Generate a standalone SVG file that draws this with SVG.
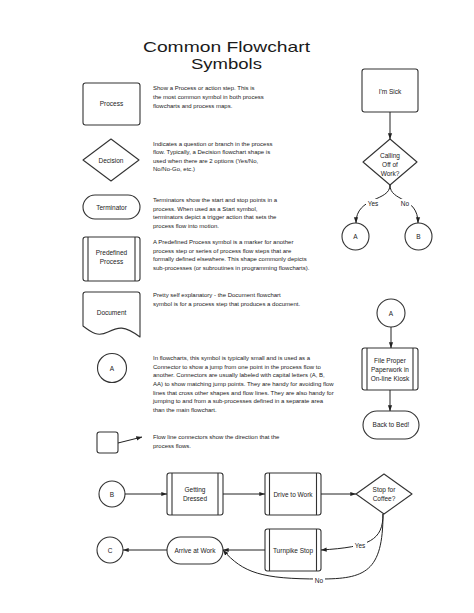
<svg xmlns="http://www.w3.org/2000/svg" width="474" height="613" viewBox="0 0 474 613">
<defs>
<marker id="arr" viewBox="0 0 10 10" refX="9.5" refY="5" markerWidth="6" markerHeight="6" orient="auto" markerUnits="userSpaceOnUse">
<path d="M0,1.5 L10,5 L0,8.5 Z" fill="#222"/>
</marker>
<style>
.s{fill:#fff;stroke:#333;stroke-width:1.1}
.in{stroke:#333;stroke-width:1.1;fill:none}
.c{fill:none;stroke:#222;stroke-width:1}
.t{font-family:"Liberation Sans",Arial,sans-serif;font-size:6px;fill:#222}
.l{font-family:"Liberation Sans",Arial,sans-serif;font-size:6.5px;fill:#222;text-anchor:middle}
.title{font-family:"Liberation Sans",Arial,sans-serif;font-size:15px;fill:#1a1a1a;text-anchor:middle}
</style>
</defs>
<rect width="474" height="613" fill="#fff"/>
<g id="title">
<text class="title" x="226.5" y="51.5" textLength="167" lengthAdjust="spacingAndGlyphs">Common Flowchart</text>
<text class="title" x="226.5" y="68.5" textLength="71" lengthAdjust="spacingAndGlyphs">Symbols</text>
</g>
<g id="legend-process">
<rect class="s" x="83" y="83" width="57" height="42" rx="2.5"/>
<text class="l" x="111.5" y="106">Process</text>
<text class="t" x="153" y="90">Show a Process or action step. This is</text>
<text class="t" x="153" y="99">the most common symbol in both process</text>
<text class="t" x="153" y="108">flowcharts and process maps.</text>
</g>
<g id="legend-decision">
<polygon class="s" points="111,139 139,160 111,181 83,160" stroke-linejoin="round"/>
<text class="l" x="111" y="162.5">Decision</text>
<text class="t" x="153" y="145.5">Indicates a question or branch in the process</text>
<text class="t" x="153" y="154">flow. Typically, a Decision  flowchart shape is</text>
<text class="t" x="153" y="162.5">used when there are 2 options (Yes/No,</text>
<text class="t" x="153" y="171">No/No-Go, etc.)</text>
</g>
<g id="legend-terminator">
<rect class="s" x="83" y="195" width="57" height="24" rx="12"/>
<text class="l" x="111.5" y="209.5">Terminator</text>
<text class="t" x="153" y="202">Terminators show the start and stop points in a</text>
<text class="t" x="153" y="210.5">process. When used as a Start symbol,</text>
<text class="t" x="153" y="219">terminators depict a trigger action that sets the</text>
<text class="t" x="153" y="227.5">process flow into motion.</text>
</g>
<g id="legend-predefined">
<rect class="s" x="83" y="237" width="57" height="44" rx="2.5"/>
<path class="in" d="M88,237V281M135,237V281"/>
<text class="l" x="111.5" y="255">Predefined</text>
<text class="l" x="111.5" y="264">Process</text>
<text class="t" x="153" y="244">A Predefined Process symbol is a marker for another</text>
<text class="t" x="153" y="252.5">process step or series of process flow steps that are</text>
<text class="t" x="153" y="261">formally defined elsewhere. This shape commonly depicts</text>
<text class="t" x="153" y="269.5">sub-processes (or subroutines in programming flowcharts).</text>
</g>
<g id="legend-document">
<path class="s" d="M83,326V294.5Q83,292 85.5,292H137.5Q140,292 140,294.5V337C124,325 118,327 108,332C98,337 92,333 83,326Z" stroke-linejoin="round"/>
<text class="l" x="111.5" y="315">Document</text>
<text class="t" x="153" y="297">Pretty self explanatory - the Document flowchart</text>
<text class="t" x="153" y="306">symbol is for a process step that produces a document.</text>
</g>
<g id="legend-connector">
<circle class="s" cx="112" cy="368" r="14.5"/>
<text class="l" x="112" y="370.5">A</text>
<text class="t" x="153" y="360">In flowcharts, this symbol is typically small and is used as a</text>
<text class="t" x="153" y="368.7">Connector to show a jump from one point in the process flow to</text>
<text class="t" x="153" y="377.4">another. Connectors are usually labeled with capital letters (A, B,</text>
<text class="t" x="153" y="386">AA) to show matching jump points. They are handy for avoiding flow</text>
<text class="t" x="153" y="394.7">lines that cross other shapes and flow lines. They are also handy for</text>
<text class="t" x="153" y="403.4">jumping to and from a sub-processes defined in a separate area</text>
<text class="t" x="153" y="412">than the main flowchart.</text>
</g>
<g id="legend-flowline">
<rect class="s" x="97" y="432" width="21" height="21" rx="2.5"/>
<text class="t" x="153" y="439">Flow line connectors show the direction that the</text>
<text class="t" x="153" y="447.5">process flows.</text>
</g>
<g id="im-sick">
<rect class="s" x="362" y="69" width="56" height="43" rx="2.5"/>
<text class="l" x="390" y="94">I'm Sick</text>
</g>
<g id="calling-off">
<polygon class="s" points="390,139 417,162 390,185 363,162" stroke-linejoin="round"/>
<text class="l" x="390" y="158">Calling</text>
<text class="l" x="390" y="167">Off of</text>
<text class="l" x="390" y="175.5">Work?</text>
</g>
<g id="conn-a1">
<circle class="s" cx="355.5" cy="236.5" r="13.5"/>
<text class="l" x="355.5" y="239">A</text>
</g>
<g id="conn-b1">
<circle class="s" cx="418.5" cy="236.5" r="13.5"/>
<text class="l" x="418.5" y="239">B</text>
</g>
<g id="conn-a2">
<circle class="s" cx="391" cy="313" r="14"/>
<text class="l" x="391" y="315.5">A</text>
</g>
<g id="file-paperwork">
<rect class="s" x="362" y="348" width="56" height="42" rx="2.5"/>
<path class="in" d="M367,348V390M413,348V390"/>
<text class="l" x="390" y="363">File Proper</text>
<text class="l" x="390" y="372">Paperwork in</text>
<text class="l" x="390" y="381">On-line Kiosk</text>
</g>
<g id="back-to-bed">
<rect class="s" x="363" y="411" width="56" height="28" rx="14"/>
<text class="l" x="391" y="427">Back to Bed!</text>
</g>
<g id="conn-b2">
<circle class="s" cx="112" cy="494" r="13"/>
<text class="l" x="112" y="496.5">B</text>
</g>
<g id="getting-dressed">
<rect class="s" x="167" y="473" width="56" height="42" rx="2.5"/>
<path class="in" d="M172,473V515M218,473V515"/>
<text class="l" x="195" y="492">Getting</text>
<text class="l" x="195" y="501">Dressed</text>
</g>
<g id="drive-to-work">
<rect class="s" x="265" y="473" width="56" height="42" rx="2.5"/>
<path class="in" d="M269.5,473V515M316.5,473V515"/>
<text class="l" x="293" y="496.5">Drive to Work</text>
</g>
<g id="stop-for-coffee">
<polygon class="s" points="384,474 412,494 384,514 356,494" stroke-linejoin="round"/>
<text class="l" x="384" y="492">Stop for</text>
<text class="l" x="384" y="501">Coffee?</text>
</g>
<g id="conn-c">
<circle class="s" cx="110" cy="550" r="13"/>
<text class="l" x="110" y="552.5">C</text>
</g>
<g id="arrive-at-work">
<rect class="s" x="167" y="537" width="56" height="27" rx="13.5"/>
<text class="l" x="195" y="552.5">Arrive at Work</text>
</g>
<g id="turnpike-stop">
<rect class="s" x="265" y="529" width="56" height="42" rx="2.5"/>
<path class="in" d="M269.5,529V571M316.5,529V571"/>
<text class="l" x="293" y="552.5">Turnpike Stop</text>
</g>
<g id="connectors">
<path class="c" d="M118,443Q130,440 142,437" marker-end="url(#arr)"/>
<path class="c" d="M390,112V139" marker-end="url(#arr)"/>
<path class="c" d="M390,185C390,202 356,196 356,223" marker-end="url(#arr)"/>
<path class="c" d="M390,185C390,202 418,196 418,223" marker-end="url(#arr)"/>
<path class="c" d="M391,327V348" marker-end="url(#arr)"/>
<path class="c" d="M390,390V411" marker-end="url(#arr)"/>
<path class="c" d="M125,494H167" marker-end="url(#arr)"/>
<path class="c" d="M223,494H265" marker-end="url(#arr)"/>
<path class="c" d="M321,494H356" marker-end="url(#arr)"/>
<path class="c" d="M383,514C383,540 370,547 321,550" marker-end="url(#arr)"/>
<path class="c" d="M383,514C383,572 365,579 320,579C262,579 243,573 223,550" marker-end="url(#arr)"/>
<path class="c" d="M265,550H223" marker-end="url(#arr)"/>
<path class="c" d="M167,550H123" marker-end="url(#arr)"/>
<rect x="366" y="199" width="14" height="8" fill="#fff"/>
<text class="l" x="373" y="205.5">Yes</text>
<rect x="399" y="199" width="12" height="8" fill="#fff"/>
<text class="l" x="405" y="205.5">No</text>
<rect x="353" y="542" width="14" height="8" fill="#fff"/>
<text class="l" x="360" y="548">Yes</text>
<rect x="313" y="577" width="12" height="8" fill="#fff"/>
<text class="l" x="319" y="583">No</text>
</g>
</svg>
